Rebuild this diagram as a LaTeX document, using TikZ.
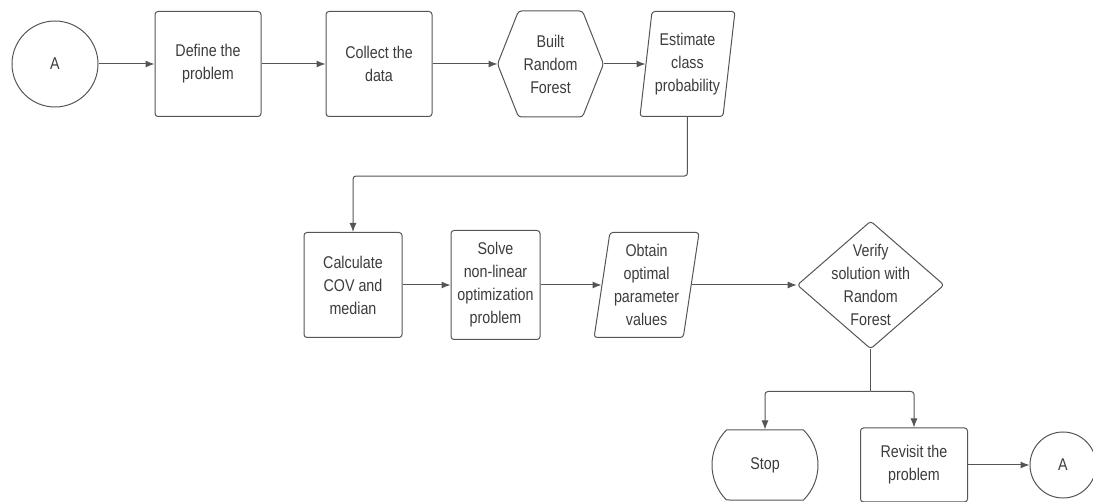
\documentclass[tikz,border=0pt]{standalone}
\usepackage{fontspec}
\setmainfont{Liberation Sans}[FakeStretch=0.84]
\usetikzlibrary{shapes.geometric,shapes.misc,arrows.meta,positioning}
\definecolor{linegray}{HTML}{555555}
\definecolor{textgray}{HTML}{3C3C3C}

\begin{document}
\begin{tikzpicture}[x=1pt, y=-1pt,
		base/.style={draw=linegray, line width=1pt, text=textgray, font=\fontsize{17}{23}\selectfont, align=center, inner sep=0pt},
		connector/.style={base, circle, minimum size=86pt},
		process/.style={base, rounded corners=3pt, minimum width=106pt, minimum height=105pt},
		prep/.style={base, draw=none, minimum width=105pt, minimum height=105pt},
		io/.style={base, trapezium, trapezium left angle=79, trapezium right angle=101, trapezium stretches body, rounded corners=3pt, minimum width=95pt, minimum height=105pt},
		decision/.style={base, diamond, inner xsep=-30pt, inner ysep=-35pt, minimum width=147pt, minimum height=128pt, rounded corners=3pt},
		terminal/.style={base, rounded rectangle, rounded rectangle arc length=90, minimum width=106pt, minimum height=70pt},
		link/.style={draw=linegray, line width=1pt},
		flow/.style={link, -{Latex[length=9pt,width=7pt]}},
	]
	\useasboundingbox (0,0) rectangle (1093,502);

	% first row
	\node[connector] (startA) at (55,64) {A};
	\node[process, right=56pt of startA] (define) {Define the\\problem};
	\node[process, right=64pt of define] (collect) {Collect the\\data};
	\node[prep, right=65pt of collect] (forest) {Built\\Random\\Forest};
	\draw[link, rounded corners=3pt] ([xshift=21pt]forest.north west) -- ([xshift=-21pt]forest.north east) -- (forest.east)
		-- ([xshift=-21pt]forest.south east) -- ([xshift=21pt]forest.south west) -- (forest.west) -- cycle;
	\node[io, right=42pt of forest] (estimate) {Estimate\\class\\probability};

	% second row
	\node[process, minimum width=98pt] (calc) at (353,285) {Calculate\\COV and\\median};
	\node[process, minimum width=89pt, minimum height=109pt, right=48pt of calc] (solve) {Solve\\non-linear\\optimization\\problem};
	\node[io, minimum width=105pt, right=61pt of solve] (obtain) {Obtain\\optimal\\parameter\\values};
	\node[decision, right=105pt of obtain] (verify) {Verify\\solution with\\Random\\Forest};

	% third row
	\node[terminal] (stop) at (765,465) {Stop};
	\node[process, minimum width=107pt, minimum height=74pt] (revisit) at (914,465) {Revisit the\\problem};
	\node[connector, minimum size=66pt] (endA) at (1063,465) {A};

	\draw[flow] (startA) -- (define);
	\draw[flow] (define) -- (collect);
	\draw[flow] (collect) -- (forest.west);
	\draw[flow] (forest.east) -- (estimate.west);
	\draw[flow, rounded corners=3pt] (estimate.south) -- ++(0,59) -| (calc.north);
	\draw[flow] (calc) -- (solve);
	\draw[flow] (solve.east) -- (obtain.west);
	\draw[flow] (obtain.east) -- (verify.west);
	\draw[link] (verify.south) -- ++(0,42) coordinate (split);
	\draw[flow, rounded corners=3pt] (split) -| (stop.north);
	\draw[flow, rounded corners=3pt] (split) -| (revisit.north);
	\draw[flow] (revisit) -- (endA);
\end{tikzpicture}
\end{document}
